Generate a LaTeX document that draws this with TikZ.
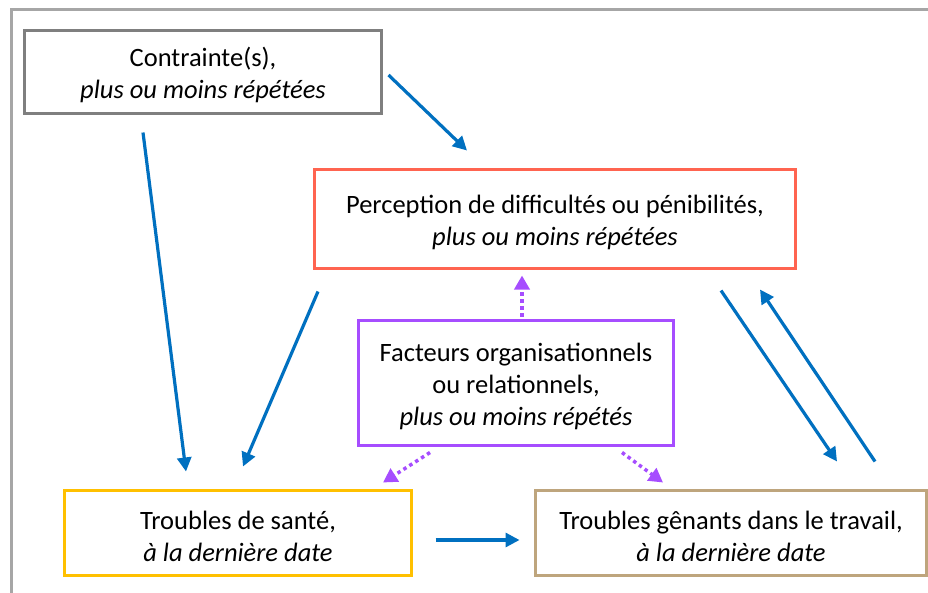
\documentclass[tikz,border=0pt]{standalone}
\usepackage{fontspec}
\setmainfont{Carlito}
\usetikzlibrary{arrows.meta,calc}
\definecolor{framegray}{RGB}{166,166,166}
\definecolor{boxgray}{RGB}{127,127,127}
\definecolor{boxred}{RGB}{255,100,80}
\definecolor{boxpurple}{RGB}{166,77,255}
\definecolor{boxyellow}{RGB}{255,192,0}
\definecolor{boxtan}{RGB}{190,165,125}
\definecolor{arrblue}{RGB}{0,112,192}
\newcommand\topstrut{\rule{0pt}{26pt}}
\tikzset{
  box/.style={draw, line width=3pt, rectangle, align=center, inner sep=0pt,
    font=\fontsize{26.5}{32}\selectfont},
  barrow/.style={draw=arrblue, line width=3.2pt, -{Triangle[length=14pt,width=14pt]}},
  parrow/.style={draw=boxpurple, line width=3.5pt, dash pattern=on 3.5pt off 3.5pt, -{Triangle[length=14pt,width=15pt]}}
}
\begin{document}
\begin{tikzpicture}[x=1pt,y=-1pt]
\useasboundingbox (0,0) rectangle (928,592);
\fill[white] (0,0) rectangle (928,592);
\begin{scope}
\clip (0,0) rectangle (928,592);
\draw[framegray, line width=3pt] (11,9) rectangle (960,620);
\node[box, draw=boxtan, minimum width=391pt, minimum height=85pt] (genant) at (731,533)
  {\topstrut Troubles gênants dans le travail,\\\textit{à la dernière date}};
\end{scope}
\node[box, draw=boxgray, minimum width=357pt, minimum height=83pt] (contr) at (203,72)
  {\topstrut Contrainte(s),\\\textit{plus ou moins répétées}};
\node[box, draw=boxred, minimum width=481pt, minimum height=99pt] (perc) at (555,219)
  {\topstrut Perception de difficultés ou pénibilités,\\\textit{plus ou moins répétées}};
\node[box, draw=boxpurple, minimum width=315pt, minimum height=125pt] (fact) at (516,383)
  {\topstrut Facteurs organisationnels\\ou relationnels,\\\textit{plus ou moins répétés}};
\node[box, draw=boxyellow, minimum width=347pt, minimum height=85pt] (sante) at (238,533)
  {\topstrut Troubles de santé,\\\textit{à la dernière date}};
% blue arrows
\draw[barrow] ($(contr.east)+(5.5,3)$) -- ($(perc.north)+(-88,-17.5)$);
\draw[barrow] ($(contr.south)+(-60,17.5)$) -- ($(sante.north)+(-52,-17.5)$);
\draw[barrow] ($(perc.south)+(-237,21.5)$) -- ($(sante.north)+(5,-22.5)$);
\draw[barrow] ($(perc.south)+(166,20.5)$) -- ($(genant.north)+(106,-27.5)$);
\draw[barrow] ($(genant.north)+(144,-27.5)$) -- ($(perc.south)+(205,19.5)$);
\draw[barrow] ($(sante.east)+(22.5,7)$) -- ($(genant.west)+(-14.5,7)$);
% purple dotted arrows
\draw[parrow] ($(fact.north)+(6,-2.5)$) -- ($(perc.south)+(-33,5.5)$);
\draw[parrow] ($(fact.south)+(-86,5.5)$) -- ($(sante.north)+(145,-6.5)$);
\draw[parrow] ($(fact.south)+(106,5.5)$) -- ($(genant.north)+(-68,-6.5)$);
\end{tikzpicture}
\end{document}
